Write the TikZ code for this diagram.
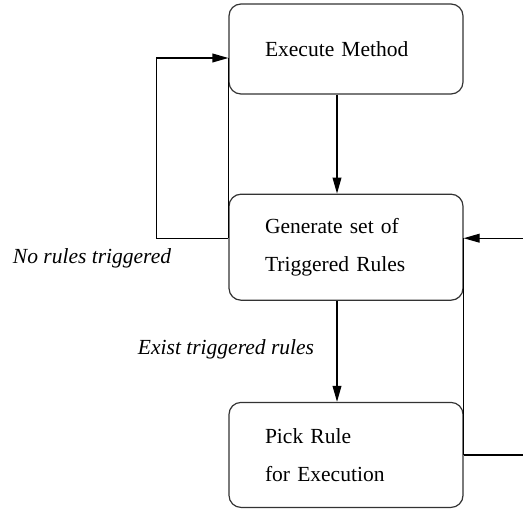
\documentclass[tikz,border=0pt]{standalone}
\usepackage{fontspec}
\setmainfont{Liberation Serif}
\usetikzlibrary{positioning,arrows.meta}
\tikzset{
  box/.style={draw=black!80, line width=0.6bp, rounded corners=6bp, minimum width=117bp,
    text width=81bp, inner xsep=18bp, align=left, font=\fontsize{10.8}{19}\selectfont},
  lbl/.style={font=\fontsize{10.8}{14}\selectfont\itshape}
}
\begin{document}
\begin{tikzpicture}[x=0.5bp, y=-0.5bp, line width=0.6bp,
    >={Triangle[length=8bp,width=4.4bp]}]
  \useasboundingbox (0,0) rectangle (523,510);
  \node[box, minimum height=45bp] (exec) at (346,49) {Execute Method};
  \node[box, minimum height=53bp] (gen) [below=49.5bp of exec] {Generate set of\\Triggered Rules};
  \node[box, minimum height=52.5bp] (pick) [below=50.5bp of gen] {Pick Rule\\for Execution};
  \coordinate (rside) at (526,0);
  % labels
  \node[lbl] (nolbl) at (92,258) {No rules triggered};
  \node[lbl] (exlbl) at (226,349) {Exist triggered rules};
  \draw[->] ([xshift=-4.5bp]exec.south) -- ([xshift=-4.5bp]gen.north);
  \draw[->] ([xshift=-4.5bp]gen.south) -- ([xshift=-4.5bp]pick.north);
  % loop back on the left
  \draw ([yshift=-4.5bp]exec.west) -- ([yshift=4.5bp]gen.west);
  \draw[->] ([yshift=4.5bp]gen.west) -- ++(-72,0) |- ([yshift=-4.5bp]exec.west);
  % loop back on the right
  \draw ([yshift=4.5bp]gen.east) -- (pick.east);
  \draw[->] (pick.east) -- (pick.east -| rside) |- ([yshift=4.5bp]gen.east);
\end{tikzpicture}
\end{document}
